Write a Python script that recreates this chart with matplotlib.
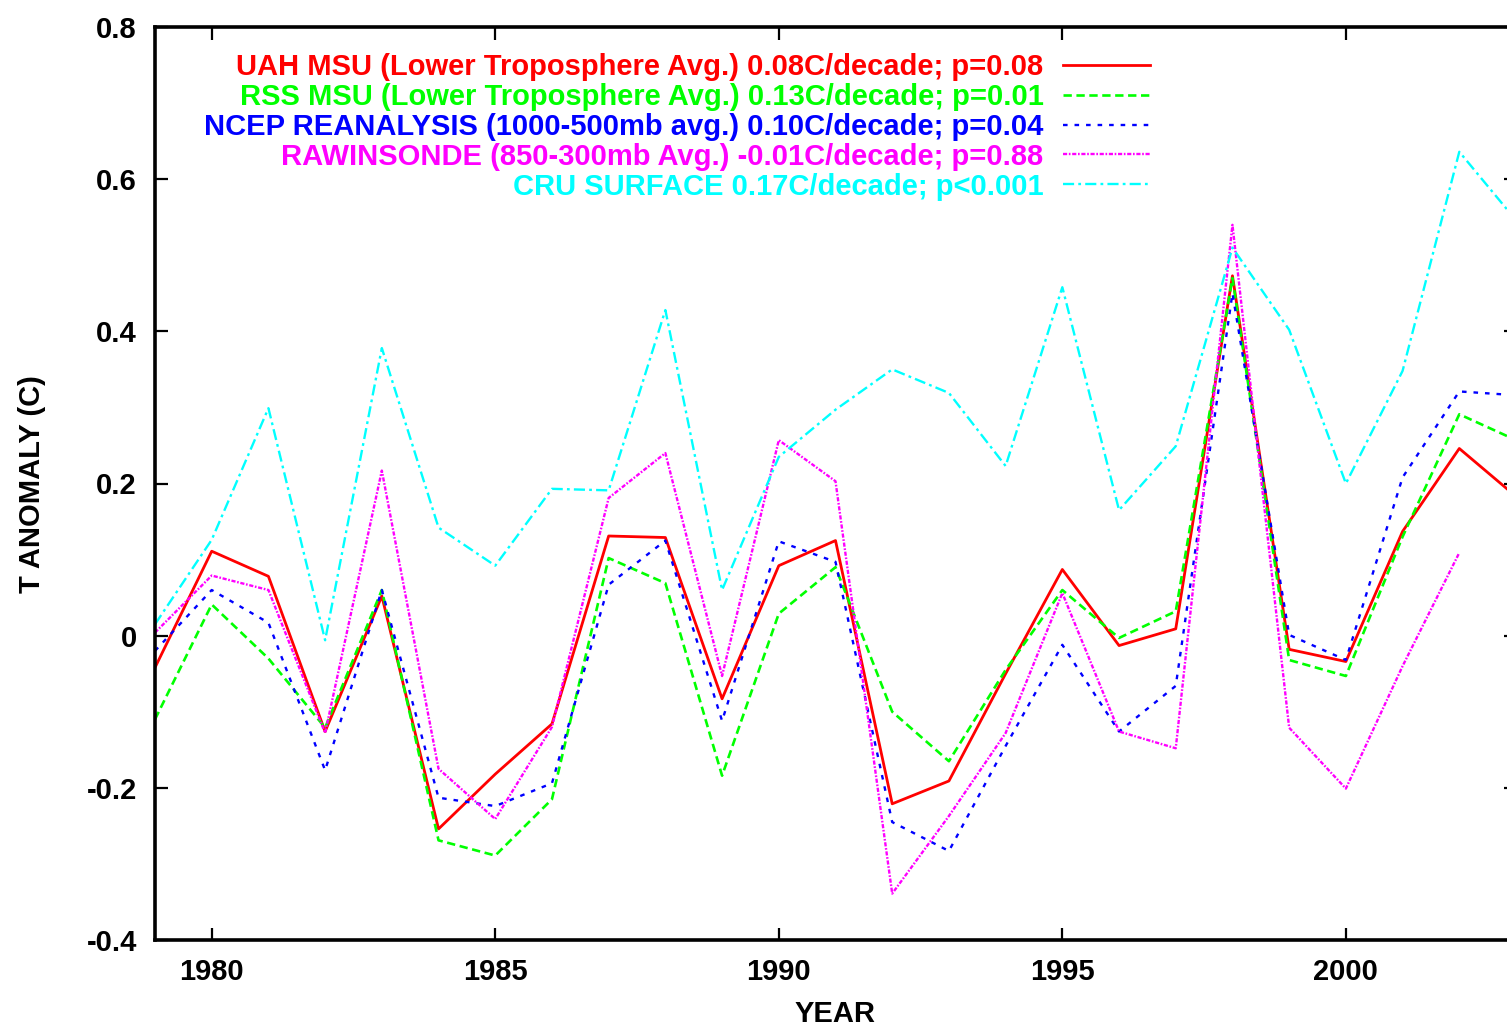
import matplotlib
matplotlib.use("Agg")
import matplotlib.pyplot as plt

# annual anomalies (deg C)
years = list(range(1979, 2004))

uah = [-0.042, 0.111, 0.078, -0.126, 0.052, -0.254, -0.182, -0.116, 0.131, 0.129,
       -0.083, 0.092, 0.125, -0.221, -0.191, -0.050, 0.087, -0.013, 0.009, 0.473,
       -0.018, -0.034, 0.137, 0.246, 0.183]
rss = [-0.110, 0.041, -0.030, -0.121, 0.060, -0.269, -0.289, -0.215, 0.102, 0.069,
       -0.184, 0.029, 0.090, -0.100, -0.165, -0.045, 0.060, -0.003, 0.032, 0.470,
       -0.032, -0.053, 0.130, 0.291, 0.257]
ncep = [-0.020, 0.060, 0.017, -0.177, 0.060, -0.213, -0.224, -0.194, 0.067, 0.125,
        -0.112, 0.124, 0.097, -0.245, -0.283, -0.145, -0.012, -0.126, -0.066, 0.450,
        0.001, -0.032, 0.208, 0.321, 0.316]
# rawinsonde series stops in 2002
raw_years = list(range(1979, 2003))
raw = [0.004, 0.079, 0.060, -0.128, 0.217, -0.175, -0.241, -0.120, 0.181, 0.240,
       -0.053, 0.257, 0.203, -0.339, -0.237, -0.128, 0.056, -0.126, -0.148, 0.540,
       -0.121, -0.201, -0.040, 0.109]
cru = [0.015, 0.126, 0.299, -0.006, 0.378, 0.142, 0.092, 0.193, 0.191, 0.428,
       0.060, 0.235, 0.297, 0.350, 0.319, 0.223, 0.458, 0.165, 0.249, 0.510,
       0.402, 0.200, 0.348, 0.636, 0.546]

labels = [
    "UAH MSU (Lower Troposphere Avg.) 0.08C/decade; p=0.08",
    "RSS MSU (Lower Troposphere Avg.) 0.13C/decade; p=0.01",
    "NCEP REANALYSIS (1000-500mb avg.) 0.10C/decade; p=0.04",
    "RAWINSONDE (850-300mb Avg.) -0.01C/decade; p=0.88",
    "CRU SURFACE 0.17C/decade; p<0.001",
]
x_ticks = [1980, 1985, 1990, 1995, 2000]
y_ticks = [-0.4, -0.2, 0, 0.2, 0.4, 0.6, 0.8]
y_tick_labels = ["-0.4", "-0.2", "0", "0.2", "0.4", "0.6", "0.8"]

plt.rcParams["font.family"] = ["Liberation Sans", "DejaVu Sans"]
plt.rcParams["font.weight"] = "bold"
plt.rcParams["font.size"] = 21
plt.rcParams["lines.scale_dashes"] = False

W, H = 1507, 1028
fig = plt.figure(figsize=(W / 100, H / 100), dpi=100)
# axes box runs a little past the right edge of the picture, like the original
ax = fig.add_axes([155 / W, (H - 940) / H, (1516 - 155) / W, (940 - 27) / H])

ax.plot(years, uah, color="#ff0000", lw=2.0, label=labels[0])
ax.plot(years, rss, color="#00ff00", lw=1.9, dashes=(6, 3.3), label=labels[1])
ax.plot(years, ncep, color="#0000ff", lw=1.7, dashes=(3.3, 5), label=labels[2])
ax.plot(raw_years, raw, color="#ff00ff", lw=1.7, dashes=(3, 1.2, 1.2, 1.2), label=labels[3])
ax.plot(years, cru, color="#00ffff", lw=1.7, dashes=(8, 3, 2, 3), label=labels[4])

ax.set_xlim(1979, 2003)
ax.set_ylim(-0.4, 0.8)
ax.set_xticks(x_ticks)
ax.set_yticks(y_ticks)
ax.set_yticklabels(y_tick_labels)

for side in ["top", "bottom", "left", "right"]:
    ax.spines[side].set_linewidth(2.6)
ax.tick_params(axis="both", direction="in", length=9, width=1.6,
               top=True, right=True, labelsize=21)
ax.tick_params(axis="x", pad=13)
ax.tick_params(axis="y", pad=13)

fig.text(32 / W, 1 - 484 / H, "T ANOMALY (C)", rotation=90, ha="center", va="center",
         fontsize=21, fontweight="bold")
fig.text(835 / W, 1 - 1014 / H, "YEAR", ha="center", va="center",
         fontsize=21, fontweight="bold")

leg = ax.legend(loc="upper right", bbox_to_anchor=(1150 / W, 1 - 53 / H),
                bbox_transform=fig.transFigure, frameon=False, markerfirst=False,
                labelcolor="linecolor", fontsize=21, handlelength=3.0,
                handletextpad=0.65, labelspacing=0.065, borderpad=0, borderaxespad=0)

fig.savefig("out.png", dpi=100)
